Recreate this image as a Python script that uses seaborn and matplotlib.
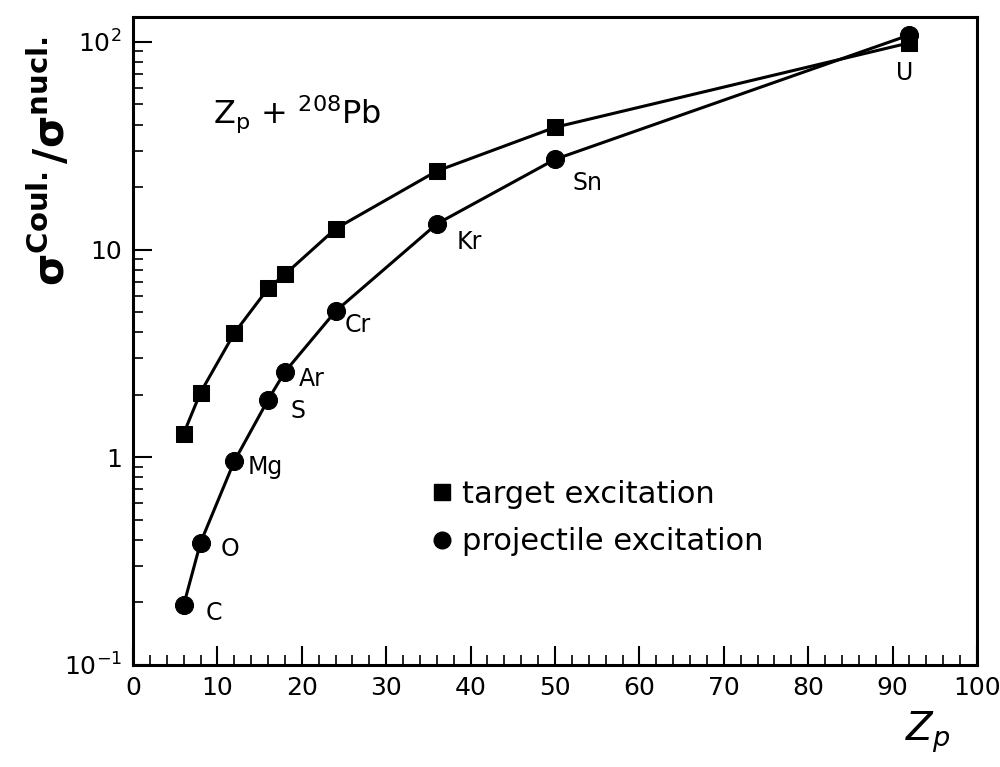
import numpy as np
import pandas as pd
import matplotlib
matplotlib.use("Agg")
import matplotlib.pyplot as plt
from matplotlib.lines import Line2D
from matplotlib.ticker import MultipleLocator, LogLocator, FixedLocator, NullFormatter
import seaborn as sns

# data
z_proj = [6, 8, 12, 16, 18, 24, 36, 50, 92]
elements = ['C', 'O', 'Mg', 'S', 'Ar', 'Cr', 'Kr', 'Sn', 'U']
target_exc = [1.30, 2.05, 3.96, 6.5, 7.6, 12.6, 23.9, 38.8, 99.0]
projectile_exc = [0.194, 0.388, 0.957, 1.89, 2.58, 5.05, 13.3, 27.2, 108.0]

df = pd.DataFrame({
    'Z': z_proj * 2,
    'ratio': target_exc + projectile_exc,
    'kind': ['target excitation'] * len(z_proj) + ['projectile excitation'] * len(z_proj),
})

sns.set_theme(style='ticks')
plt.rcParams['font.family'] = ['DejaVu Sans']
plt.rcParams['text.color'] = 'black'
plt.rcParams['xtick.color'] = 'black'
plt.rcParams['ytick.color'] = 'black'

fig = plt.figure(figsize=(10, 7.67), dpi=100)
ax = fig.add_axes([0.133, 0.133, 0.844, 0.845])

tgt = df[df.kind == 'target excitation']
prj = df[df.kind == 'projectile excitation']
sns.lineplot(data=tgt, x='Z', y='ratio', ax=ax, color='black', lw=2.2,
             marker='s', markersize=12, markeredgecolor='black', sort=False)
sns.lineplot(data=prj, x='Z', y='ratio', ax=ax, color='black', lw=2.2,
             marker='o', markersize=13, markeredgecolor='black', sort=False)

ax.set_yscale('log')
ax.set_xlim(0, 100)
ax.set_ylim(0.1, 132)

# element labels next to the projectile points
offsets = {'C': (22, -8), 'O': (20, -6), 'Mg': (13, -6), 'S': (22, -11),
           'Ar': (14, -7), 'Cr': (9, -14), 'Kr': (20, -18), 'Sn': (18, -24),
           'U': (-13, -38)}
for z, el, r in zip(z_proj, elements, projectile_exc):
    dx, dy = offsets[el]
    ax.annotate(el, (z, r), xytext=(dx, dy), textcoords='offset pixels',
                fontsize=17, ha='left', va='center')

ax.text(9.5, 45, r'$\mathrm{Z_{p}}$ + $\mathrm{^{208}Pb}$', fontsize=23, ha='left', va='center')

# ticks
ax.xaxis.set_major_locator(MultipleLocator(10))
ax.xaxis.set_minor_locator(MultipleLocator(2))
ax.yaxis.set_major_locator(FixedLocator([0.1, 1, 10, 100]))
ax.yaxis.set_minor_locator(LogLocator(base=10, subs=np.arange(2, 10)))
ax.yaxis.set_minor_formatter(NullFormatter())
ax.set_yticklabels([r'$10^{-1}$', '1', '10', r'$10^{2}$'])
ax.tick_params(axis='both', which='major', direction='in', length=14, width=1.5,
               labelsize=18, top=False, right=False, pad=8)
ax.tick_params(axis='both', which='minor', direction='in', length=7, width=1.2,
               top=False, right=False)
for s in ax.spines.values():
    s.set_linewidth(2.2)
    s.set_color('black')

ax.set_xlabel('')
ax.set_ylabel('')
fig.text(0.905, 0.045, r'$Z_{p}$', fontsize=28, ha='left', va='center')
fig.text(0.05, 0.79, r'$\mathbf{\sigma^{Coul.}/\sigma^{nucl.}}$', fontsize=30,
         rotation=90, ha='center', va='center')

handles = [Line2D([], [], marker='s', color='black', ls='none', markersize=11),
           Line2D([], [], marker='o', color='black', ls='none', markersize=12)]
ax.legend(handles, ['target excitation', 'projectile excitation'], frameon=False,
          loc='upper left', bbox_to_anchor=(0.316, 0.328), fontsize=22,
          handletextpad=0.15, labelspacing=0.6, handlelength=1.0)

plt.savefig('out.png', dpi=100)
